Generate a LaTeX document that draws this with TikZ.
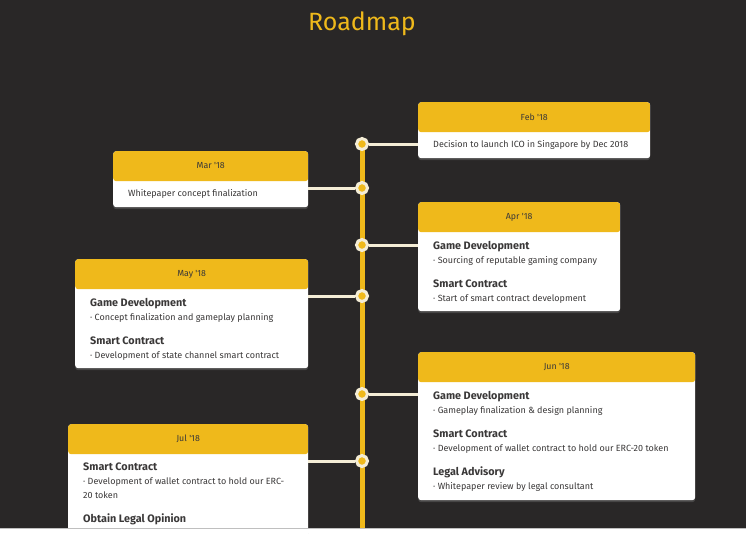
\documentclass[tikz,border=0pt]{standalone}
\usepackage{fontspec}
\setmainfont{Fira Sans}
\usetikzlibrary{shadows}
\definecolor{bg}{HTML}{292727}
\definecolor{gold}{HTML}{EFB91B}
\definecolor{cream}{HTML}{F4EDD6}
\definecolor{ink}{HTML}{3A3838}
\tikzset{
  card/.style={fill=white, rounded corners=3pt, anchor=north west, inner sep=0pt,
    drop shadow={opacity=0.35, shadow xshift=0pt, shadow yshift=-2pt},
    path picture={\fill[gold] (path picture bounding box.north west) rectangle ([yshift=-30pt]path picture bounding box.north east);}},
  datelbl/.style={text=ink, font=\fontsize{8.8}{10}\selectfont},
  txt/.style={text=ink, anchor=north west, inner sep=0pt, align=left, font=\fontsize{9}{14}\selectfont},
  line/.style={text=ink, anchor=west, inner sep=0pt, font=\fontsize{9}{14}\selectfont},
  dot/.style={circle, fill=gold, draw=cream, line width=3pt, minimum size=11pt, inner sep=0pt},
  link/.style={cream, line width=3pt},
  spine/.style={gold, line width=5pt},
}
\newcommand{\hd}[1]{{\fontsize{10.8}{14}\selectfont\bfseries #1}}
\newcommand{\bl}[1]{·~#1}

\begin{document}
\begin{tikzpicture}[x=1pt, y=-1pt]
    \useasboundingbox (0,0) rectangle (746,533);
    \fill[bg] (0,0) rectangle (746,533);
    \node[text=gold, font=\fontsize{25}{28}\selectfont] (ttl) at (362,24) {Roadmap};

    % cards
    \node[card, minimum width=232pt, minimum height=56pt] (feb) at (418,102) {};
    \node[card, minimum width=195pt, minimum height=56pt] (mar) at (113,151) {};
    \node[card, minimum width=202pt, minimum height=109pt] (apr) at (418,202) {};
    \node[card, minimum width=233pt, minimum height=109pt] (may) at (75,259) {};
    \node[card, minimum width=277pt, minimum height=148pt] (jun) at (418,352) {};
    \node[card, minimum width=240pt, minimum height=120pt] (jul) at (68,424) {};

    \node[datelbl] (febd) at ([yshift=-15pt]feb.north) {Feb \textquotesingle18};
    \node[datelbl] (mard) at ([yshift=-15pt]mar.north) {Mar \textquotesingle18};
    \node[datelbl] (aprd) at ([yshift=-15pt]apr.north) {Apr \textquotesingle18};
    \node[datelbl] (mayd) at ([yshift=-15pt]may.north) {May \textquotesingle18};
    \node[datelbl] (jund) at ([yshift=-15pt]jun.north) {Jun \textquotesingle18};
    \node[datelbl] (juld) at ([yshift=-15pt]jul.north) {Jul \textquotesingle18};

    \node[line] (febt) at ([xshift=15pt, yshift=-43pt]feb.north west) {Decision to launch ICO in Singapore by Dec 2018};
    \node[line] (mart) at ([xshift=15pt, yshift=-43pt]mar.north west) {Whitepaper concept finalization};
    \node[txt] (aprt) at ([xshift=15pt, yshift=-39pt]apr.north west)
      {\hd{Game Development}\\ \bl{Sourcing of reputable gaming company}\\[10pt]
       \hd{Smart Contract}\\ \bl{Start of smart contract development}};
    \node[txt] (mayt) at ([xshift=15pt, yshift=-39pt]may.north west)
      {\hd{Game Development}\\ \bl{Concept finalization and gameplay planning}\\[10pt]
       \hd{Smart Contract}\\ \bl{Development of state channel smart contract}};
    \node[txt] (junt) at ([xshift=15pt, yshift=-39pt]jun.north west)
      {\hd{Game Development}\\ \bl{Gameplay finalization \& design planning}\\[10pt]
       \hd{Smart Contract}\\ \bl{Development of wallet contract to hold our ERC-20 token}\\[10pt]
       \hd{Legal Advisory}\\ \bl{Whitepaper review by legal consultant}};
    \node[txt] (jult) at ([xshift=15pt, yshift=-39pt]jul.north west)
      {\hd{Smart Contract}\\ \bl{Development of wallet contract to hold our ERC-}\\20 token\\[10pt]
       \hd{Obtain Legal Opinion}};

    % timeline
    \coordinate (top) at (362,144);
    \coordinate (foot) at (362,528);
    \draw[spine] (top) -- (foot);
    \node[dot] (d1) at (362,144) {};
    \node[dot] (d2) at (362,188) {};
    \node[dot] (d3) at (362,245) {};
    \node[dot] (d4) at (362,296) {};
    \node[dot] (d5) at (362,394) {};
    \node[dot] (d6) at (362,461) {};
    \draw[link] (d1) -- (d1 -| feb.west);
    \draw[link] (d2) -- (d2 -| mar.east);
    \draw[link] (d3) -- (d3 -| apr.west);
    \draw[link] (d4) -- (d4 -| may.east);
    \draw[link] (d5) -- (d5 -| jun.west);
    \draw[link] (d6) -- (d6 -| jul.east);

    \fill[white] (0,528) rectangle (746,533);
    \draw[black!25] (0,528) -- (746,528);
  \end{tikzpicture}
\end{document}
